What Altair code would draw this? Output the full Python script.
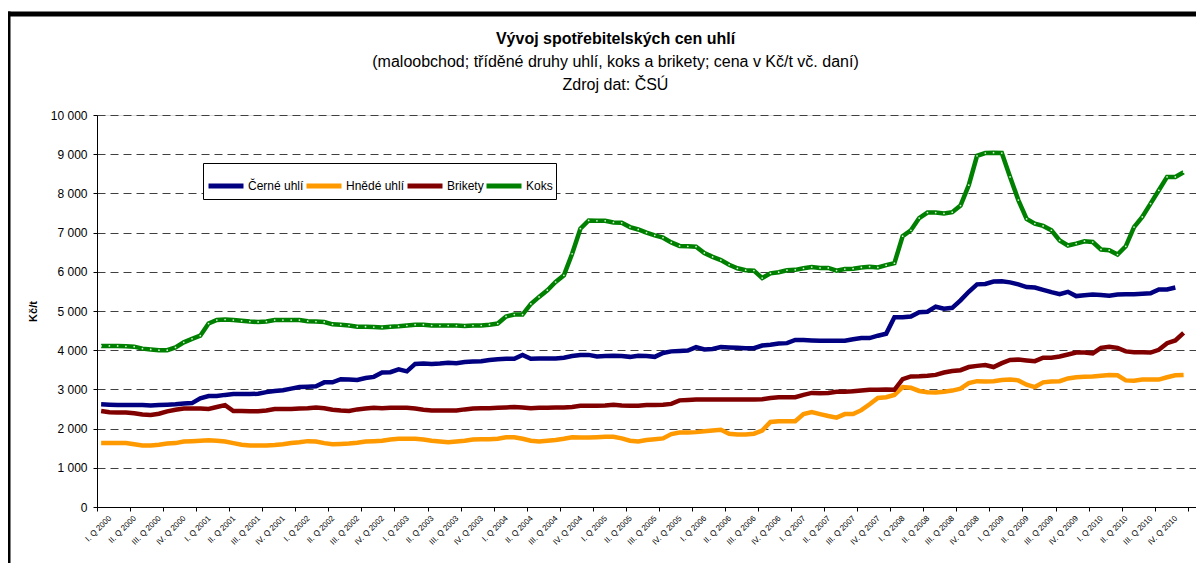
import json
import altair as alt
import pandas as pd

# ---- data (monthly, Jan 2000 .. Dec 2010), Kč/t ----
series_names = ["Černé uhlí", "Hnědé uhlí", "Brikety", "Koks"]
series_colors = ["#000080", "#FF9900", "#800000", "#008000"]

cerne_uhli = [
    2620, 2610, 2600, 2600, 2600, 2600, 2590, 2600, 2610, 2620, 2640, 2650,
    2770, 2830, 2830, 2860, 2880, 2880, 2880, 2890, 2930, 2960, 2980, 3020,
    3060, 3070, 3080, 3180, 3180, 3260, 3250, 3240, 3290, 3320, 3430, 3440,
    3510, 3460, 3650, 3660, 3650, 3660, 3680, 3670, 3700, 3710, 3720, 3750,
    3770, 3780, 3780, 3880, 3780, 3790, 3790, 3790, 3810, 3850, 3880, 3880,
    3840, 3850, 3860, 3850, 3830, 3860, 3850, 3830, 3930, 3970, 3980, 3990,
    4080, 4020, 4030, 4080, 4070, 4060, 4050, 4050, 4120, 4140, 4170, 4180,
    4260, 4260, 4250, 4240, 4240, 4240, 4240, 4280, 4310, 4310, 4370, 4420,
    4840, 4840, 4860, 4970, 4980, 5110, 5060, 5080, 5270, 5490, 5680, 5690,
    5750, 5760, 5730, 5680, 5610, 5600, 5540, 5480, 5430, 5490, 5380, 5400,
    5420, 5410, 5390, 5420, 5430, 5430, 5440, 5450, 5550, 5550, 5600, None,
]
hnede_uhli = [
    1630, 1630, 1630, 1630, 1600, 1570, 1570, 1590, 1620, 1630, 1670, 1680,
    1690, 1700, 1690, 1670, 1630, 1590, 1570, 1570, 1570, 1580, 1600, 1630,
    1650, 1680, 1670, 1630, 1600, 1610, 1620, 1640, 1670, 1680, 1690, 1720,
    1740, 1740, 1740, 1720, 1690, 1670, 1650, 1670, 1690, 1720, 1730, 1730,
    1740, 1780, 1780, 1740, 1690, 1670, 1690, 1710, 1740, 1780, 1770, 1770,
    1780, 1790, 1790, 1750, 1690, 1670, 1710, 1730, 1750, 1860, 1900, 1900,
    1910, 1930, 1950, 1970, 1870, 1850, 1850, 1870, 1950, 2170, 2190, 2190,
    2190, 2370, 2420, 2370, 2320, 2280, 2370, 2370, 2470, 2620, 2780, 2800,
    2860, 3060, 3040, 2960, 2930, 2920, 2940, 2970, 3020, 3160, 3210, 3200,
    3210, 3240, 3250, 3230, 3120, 3060, 3180, 3200, 3210, 3280, 3310, 3320,
    3330, 3350, 3370, 3360, 3230, 3220, 3250, 3250, 3250, 3310, 3360, 3370,
]
brikety = [
    2450, 2420, 2410, 2410, 2390, 2360, 2350, 2380, 2440, 2480, 2510, 2510,
    2510, 2500, 2550, 2600, 2450, 2450, 2440, 2440, 2460, 2500, 2500, 2500,
    2510, 2520, 2540, 2520, 2480, 2460, 2450, 2490, 2510, 2530, 2520, 2530,
    2530, 2530, 2510, 2480, 2460, 2460, 2460, 2460, 2490, 2510, 2520, 2520,
    2530, 2540, 2550, 2540, 2520, 2530, 2530, 2540, 2540, 2550, 2580, 2580,
    2580, 2590, 2610, 2590, 2580, 2580, 2600, 2600, 2610, 2630, 2720, 2730,
    2740, 2740, 2740, 2740, 2740, 2740, 2740, 2740, 2750, 2780, 2800, 2800,
    2800, 2860, 2910, 2900, 2910, 2940, 2940, 2950, 2970, 2990, 2990, 3000,
    2990, 3260, 3330, 3335, 3350, 3370, 3430, 3470, 3490, 3570, 3600, 3620,
    3570, 3670, 3750, 3760, 3740, 3720, 3810, 3810, 3840, 3890, 3940, 3940,
    3920, 4060, 4090, 4060, 3970, 3950, 3950, 3940, 4010, 4180, 4250, 4440,
]
koks = [
    4110, 4110, 4110, 4100, 4090, 4040, 4020, 4000, 4000, 4070, 4200, 4290,
    4370, 4680, 4770, 4780, 4770, 4750, 4730, 4720, 4730, 4770, 4770, 4770,
    4770, 4740, 4730, 4720, 4660, 4650, 4630, 4600, 4600, 4590, 4580, 4600,
    4610, 4630, 4650, 4650, 4630, 4630, 4630, 4630, 4620, 4630, 4630, 4650,
    4680, 4860, 4910, 4910, 5180, 5360, 5530, 5740, 5910, 6460, 7100, 7310,
    7300, 7300, 7260, 7250, 7140, 7080, 7000, 6930, 6870, 6750, 6660, 6650,
    6640, 6480, 6380, 6300, 6180, 6090, 6040, 6030, 5840, 5960, 5990, 6040,
    6050, 6090, 6120, 6100, 6100, 6030, 6070, 6080, 6110, 6130, 6110, 6170,
    6220, 6910, 7060, 7370, 7510, 7510, 7490, 7520, 7690, 8210, 8960, 9030,
    9040, 9030, 8420, 7830, 7350, 7230, 7170, 7060, 6800, 6670, 6720, 6780,
    6760, 6570, 6550, 6440, 6650, 7140, 7400, 7740, 8080, 8420, 8420, 8540,
]

quarters = ["I.", "II.", "III.", "IV."]
years = list(range(2000, 2011))
quarter_labels = [f"{q} Q {y}" for y in years for q in quarters]

y_ticks = list(range(0, 10001, 1000))

# ---- long table ----
rows = []
for name, vals in zip(series_names, [cerne_uhli, hnede_uhli, brikety, koks]):
    for i, v in enumerate(vals):
        if v is not None:
            rows.append({"i": i, "v": v, "s": name})
df = pd.DataFrame(rows)
n_cat = 133  # Excel category slots on the axis

FONT = "Liberation Sans"
x_scale = alt.Scale(domain=[-0.5, n_cat - 0.5], nice=False, zero=False)
y_scale = alt.Scale(domain=[0, 10000], nice=False, zero=True)

label_expr = json.dumps(quarter_labels) + "[round(datum.value / 3)]"

lines = alt.Chart(df).mark_line(strokeWidth=4.5).encode(
    x=alt.X(
        "i:Q", scale=x_scale,
        axis=alt.Axis(
            orient="bottom",
            values=list(range(0, 132, 3)), labelExpr=label_expr,
            labelAngle=-45, labelFontSize=8, labelFont=FONT, labelColor="black",
            labelPadding=7, labelOffset=6, labelOverlap=False, labelBound=False,
            ticks=False, grid=False, domainColor="black", domainWidth=1,
            title=None,
        ),
    ),
    y=alt.Y(
        "v:Q", scale=y_scale,
        axis=alt.Axis(
            orient="left",
            values=y_ticks,
            labelExpr="replace(format(datum.value, ','), ',', ' ')",
            labelFont=FONT, labelFontSize=12, labelColor="black", labelPadding=6,
            labelOverlap=False,
            tickSize=4, tickColor="black", domainColor="black",
            grid=True, gridDash=[8, 5], gridColor="#404040", gridWidth=1,
            title="Kč/t", titleFont=FONT, titleFontSize=11, titleFontWeight="bold",
            titleColor="black", titleX=-64, titleY=196, titleAlign="center",
            titleBaseline="middle",
        ),
    ),
    color=alt.Color(
        "s:N",
        scale=alt.Scale(domain=series_names, range=series_colors),
        legend=alt.Legend(
            title=None, orient="none", legendX=106, legendY=48,
            direction="horizontal", columns=4, symbolType="stroke",
            symbolSize=1225, symbolStrokeWidth=5, labelFont=FONT,
            labelFontSize=12, labelColor="black", labelOffset=2,
            columnPadding=-14, padding=3, strokeColor="black", fillColor="white",
            labelLimit=200,
        ),
    ),
)

markers = alt.Chart(df[df["s"] == "Koks"]).mark_point(
    filled=True, size=3, color="#e8ffe8", opacity=0.9
).encode(
    x=alt.X("i:Q", scale=x_scale, axis=None),
    y=alt.Y("v:Q", scale=y_scale, axis=None),
)

tick_layer = alt.Chart(df).mark_rule(opacity=0).encode(
    x=alt.X(
        "i:Q", scale=x_scale,
        axis=alt.Axis(
            orient="bottom",
            values=[-0.5 + 4 * k for k in range(34)], labels=False, domain=False,
            grid=False, ticks=True, tickSize=4, tickColor="black", title=None,
        ),
    )
)

one = pd.DataFrame({"a": [0]})
frame_top = alt.Chart(one).mark_rule(color="black", strokeWidth=5).encode(
    x=alt.value(-92), x2=alt.value(1110), y=alt.value(-101)
)
frame_left = alt.Chart(one).mark_rule(color="black", strokeWidth=5).encode(
    x=alt.value(-89), y=alt.value(-103.5), y2=alt.value(470)
)

chart = (
    alt.layer(tick_layer, lines, markers, frame_top, frame_left)
    .resolve_axis(x="independent", y="independent")
    .properties(
        width=1099,
        height=392,
        autosize="none",
        padding={"left": 89, "top": 107, "right": 0, "bottom": 56},
        title=alt.TitleParams(
            text="Vývoj spotřebitelských cen uhlí",
            subtitle=[
                "(maloobchod; tříděné druhy uhlí, koks a brikety; cena v Kč/t vč. daní)",
                "Zdroj dat: ČSÚ",
            ],
            font=FONT, fontSize=16, fontWeight="bold", color="black",
            subtitleFont=FONT, subtitleFontSize=16, subtitleColor="black",
            subtitlePadding=7, subtitleLineHeight=23,
            anchor="middle", dx=-31, offset=-84, frame="group",
        ),
    )
    .configure_view(stroke="#808080", strokeWidth=1)
    .configure(background="white")
)

chart.save("out.html", embed_options={"renderer": "svg", "actions": False})
